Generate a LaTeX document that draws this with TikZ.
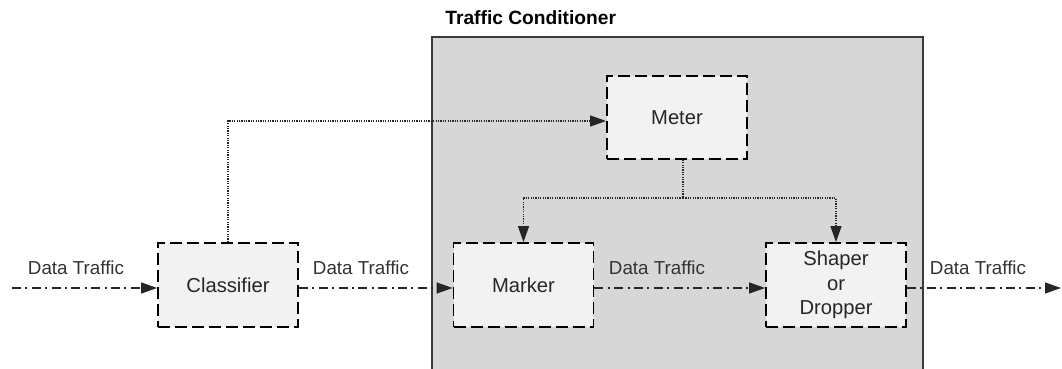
\documentclass[tikz,border=0pt]{standalone}
\usepackage{fontspec}
\setmainfont{Liberation Sans}
\usetikzlibrary{arrows.meta}
\definecolor{zone}{HTML}{D7D7D7}
\definecolor{boxfill}{HTML}{F2F2F2}
\definecolor{zoneline}{HTML}{3A3A3A}
\begin{document}
\begin{tikzpicture}[x=0.5pt,y=-0.5pt,
  font=\fontsize{9.4pt}{12.5pt}\selectfont,
  stage/.style={draw=black,fill=boxfill,line width=0.9pt,
    dash pattern=on 6pt off 2.5pt,minimum width=70pt,minimum height=42pt,
    inner sep=0pt,align=center,text=black!85,
    font=\fontsize{10.1pt}{12.3pt}\selectfont},
  flow/.style={draw=black!85,line width=0.65pt,
    dash pattern=on 4.5pt off 2.2pt on 1pt off 2.2pt,
    -{Triangle[length=8pt,width=5.5pt]}},
  ctrl/.style={draw=black!85,line width=0.65pt,dash pattern=on 0.6pt off 0.6pt,
    -{Triangle[length=8pt,width=5.5pt]}},
  lbl/.style={inner sep=0pt,text=black!80}]
\useasboundingbox (0,0) rectangle (1062,369);
\clip (0,0) rectangle (1062,369);

% conditioner area
\filldraw[fill=zone,draw=zoneline,line width=0.8pt] (432,37) rectangle (923,380);
\node[inner sep=0pt,anchor=west,font=\fontsize{9.6pt}{12pt}\selectfont\bfseries] (title) at (445,18) {Traffic Conditioner};

% stages
\node[stage] (classifier) at (228,285) {Classifier};
\node[stage] (marker) at (523.5,285) {Marker};
\node[stage] (shaper) at (836,285) {Shaper\\or\\Dropper};
\node[stage,minimum height=41.5pt] (meter) at (677,117.5) {Meter};

% data path
\coordinate (in) at (12,288);
\coordinate (out) at (1061,288);
\draw[flow] (in) -- (in -| classifier.west);
\draw[flow] (classifier.east |- in) -- (marker.west |- in);
\draw[flow] (marker.east |- in) -- (shaper.west |- in);
\draw[flow] (shaper.east |- in) -- (out);

\node[lbl] (l1) at (76,268) {Data Traffic};
\node[lbl] (l2) at (361,268) {Data Traffic};
\node[lbl] (l3) at (657,268) {Data Traffic};
\node[lbl] (l4) at (978,268) {Data Traffic};

% control paths
\coordinate (tap) at (683,198);
\draw[ctrl] (classifier.north) |- (meter.west |- 0,121);
\draw[ctrl,-] (tap |- meter.south) -- (tap);
\draw[ctrl] (tap) -| (marker.north);
\draw[ctrl] (tap) -| (shaper.north);
\end{tikzpicture}
\end{document}
